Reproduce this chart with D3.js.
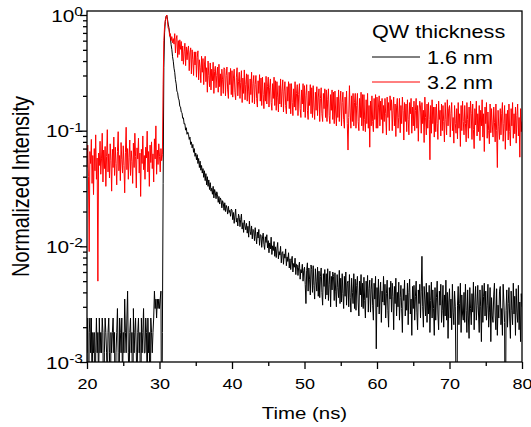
<!DOCTYPE html>
<html>
<head>
<meta charset="utf-8">
<script src="https://cdn.jsdelivr.net/npm/d3@7"></script>
<style>
  body { margin: 0; background: #fff; }
  text { font-family: Arial, "Liberation Sans", sans-serif; fill: #000; }
</style>
</head>
<body>
<svg id="chart" width="531" height="427"></svg>
<script>
// time grid of the measurement (ns)
const tStart = 20, tStep = 0.1;

const xTicks = [20, 30, 40, 50, 60, 70, 80];
const xMinor = [25, 35, 45, 55, 65, 75];
const yTicks = [1e-3, 1e-2, 1e-1, 1];
const yTickExp = ["-3", "-2", "-1", "0"];

const legendTitle = "QW thickness";
const seriesNames = ["1.6 nm", "3.2 nm"];
const seriesColors = ["#000000", "#ff0000"];

// 1.6 nm QW, intensity x 1e4, one row per ns (20.0 .. 80.0)
const black16 = [
  12,24,0,18,24,12,24,6,18,12,
  18,0,12,24,12,18,6,24,12,18,
  12,24,18,0,12,24,18,12,6,18,
  24,12,0,18,12,18,24,12,18,0,
  12,18,29,12,0,24,18,12,24,6,
  18,12,35,18,12,24,41,12,6,18,
  24,12,18,0,29,12,18,24,12,6,
  18,24,12,18,0,24,12,18,29,12,
  12,24,18,6,24,12,18,0,24,18,
  12,18,24,41,29,35,24,35,29,35,
  29,35,41,0,18,350,3500,7000,8800,9700,        // 30
  10000,9210,8350,7760,6940,6330,5540,5050,4360,3990,
  3470,3200,2760,2540,2200,2130,1910,1840,1630,1600,
  1450,1430,1280,1290,1140,1150,1010,1060,930,970,
  930,840,880,760,800,710,760,650,700,600,
  640,560,620,520,575,480,545,455,500,430,
  470,395,450,370,425,340,400,330,375,310,
  355,300,318,282,330,262,310,290,258,296,
  280,240,270,232,262,250,215,248,236,205,
  238,200,226,214,190,222,196,205,182,210,
  205,170,196,158,183,210,162,175,150,190,      // 40
  178,148,170,190,141,160,132,168,150,139,
  158,130,149,120,165,135,126,150,116,140,
  137,112,145,121,105,133,118,140,102,126,
  125,98,118,130,104,94,121,108,126,97,
  112,88,107,95,120,85,101,92,110,82,
  99,80,95,108,78,90,84,100,72,88,
  90,70,86,79,95,68,81,74,88,65,
  78,63,75,82,60,71,66,79,57,70,
  69,56,66,73,52,63,59,70,50,62,
  66,47,32,62,72,41,65,52,38,69,                // 50
  63,40,68,46,35,64,50,41,66,37,
  61,36,55,65,40,31,58,45,63,35,
  58,38,64,34,47,61,30,55,42,60,
  55,34,59,41,30,57,44,36,62,32,
  53,33,58,39,29,55,37,60,31,48,
  50,30,57,36,27,53,40,32,58,29,
  52,28,46,55,33,25,50,38,57,30,
  48,29,54,34,24,50,36,56,27,43,
  51,27,42,53,31,23,48,35,55,13,
  44,30,52,26,38,49,22,41,33,55,                // 60
  31,47,24,39,51,28,20,44,35,50,
  27,48,37,19,45,32,53,25,40,30,
  49,23,36,46,29,18,43,34,51,25,
  38,28,48,21,40,52,26,35,17,45,
  29,46,23,37,50,27,19,42,32,47,
  24,41,82,30,20,45,35,25,48,22,
  40,26,46,18,34,49,24,42,29,17,
  44,23,36,50,26,19,41,31,47,22,
  28,46,20,38,25,51,23,40,16,33,
  43,24,35,19,47,27,21,41,30,6,                 // 70
  0,31,45,21,32,48,18,38,26,23,
  40,22,47,28,18,42,25,16,44,29,
  21,39,27,49,19,33,45,23,31,46,
  26,18,42,30,15,46,22,37,48,25,
  41,23,31,47,20,27,44,15,36,25,
  22,38,48,25,19,43,17,31,24,41,
  45,21,29,17,47,33,22,0,28,42,
  20,32,44,24,16,41,28,21,48,26,
  37,17,43,27,22,46,19,33,15,39,
  30                                            // 80
];

// 3.2 nm QW, intensity x 1e3, one row per ns (20.0 .. 80.0)
const red32 = [
  48,75,40,9,66,52,84,35,61,28,
  70,45,92,38,58,5,64,50,81,42,
  57,95,36,68,47,73,33,60,102,44,
  63,39,77,55,30,69,48,88,41,72,
  52,34,66,98,45,61,37,79,56,43,
  74,50,29,65,107,46,70,38,59,83,
  41,67,54,35,78,48,95,60,32,71,
  57,86,43,64,27,69,52,90,46,61,
  38,72,58,99,44,66,33,75,53,80,
  47,63,36,85,57,110,42,68,51,77,
  60,44,70,55,62,250,600,800,900,960,           // 30
  1000,885,765,760,655,690,600,650,575,625,
  560,690,470,620,665,430,600,455,610,505,
  590,400,540,375,480,570,365,530,410,500,
  540,330,470,520,310,500,410,300,480,370,
  480,290,430,490,275,410,350,260,440,320,
  420,250,370,440,265,350,215,400,300,240,
  385,225,340,270,390,210,325,360,235,300,
  355,215,375,240,310,200,340,275,210,350,
  340,200,300,355,225,190,320,250,345,205,
  330,195,285,340,215,185,290,350,200,265,      // 40
  320,190,260,330,175,285,210,335,185,250,
  310,180,305,220,170,280,205,320,175,255,
  300,170,250,300,190,160,270,210,305,180,
  285,165,290,205,155,260,180,295,170,240,
  290,160,235,280,175,150,255,190,290,165,
  270,150,265,195,145,245,170,280,160,220,
  275,145,220,265,165,140,240,180,265,155,
  255,140,255,175,135,230,160,265,150,210,
  250,135,205,255,155,130,225,170,255,145,
  245,130,200,250,150,125,220,165,250,140,      // 50
  235,130,245,160,125,215,150,240,135,195,
  230,120,190,235,140,120,210,155,230,130,
  225,120,185,230,135,115,205,150,225,125,
  215,115,220,145,110,195,130,225,120,180,
  220,110,175,215,125,105,195,140,220,115,
  68,130,245,145,105,200,120,210,110,175,
  210,105,165,210,120,100,190,130,215,110,
  205,100,205,125,98,185,115,210,105,165,
  72,180,110,200,120,98,190,125,205,105,
  195,105,160,200,110,180,125,190,95,165,       // 60
  120,190,140,92,195,130,175,100,200,150,
  185,100,150,195,110,170,89,160,190,105,
  130,190,96,165,115,195,150,83,175,120,
  170,98,185,125,92,175,140,190,95,160,
  110,180,100,150,190,105,165,81,145,180,
  160,95,175,115,150,79,195,130,92,170,
  105,175,125,56,165,95,185,115,160,88,
  160,98,170,115,84,180,125,150,90,170,
  100,165,120,80,175,125,92,185,110,155,
  165,88,140,175,100,130,78,165,115,95,         // 70
  155,85,175,105,140,73,165,100,180,120,
  92,165,115,80,175,125,86,160,105,180,
  140,84,170,102,70,155,112,180,90,140,
  98,165,82,150,110,185,88,140,66,160,
  115,175,86,145,100,77,170,96,155,112,
  88,160,118,80,170,100,48,150,108,84,
  155,92,140,175,81,115,165,69,140,100,
  150,83,170,98,74,155,110,175,86,140,
  94,160,78,135,170,90,130,59,155,98,
  120                                           // 80
];

const W = 531, H = 427;
const margin = { left: 87, right: 9, top: 11, bottom: 65 };
const textStretch = 1.2;   // the reference text is drawn wide

const svg = d3.select("#chart");

const x = d3.scaleLinear()
    .domain([20, 80])
    .range([margin.left, W - margin.right]);

// 10^0 sits a few px below the top of the frame
const y = d3.scaleLog()
    .domain([1e-3, 1.083])
    .range([H - margin.bottom, margin.top]);

// normalize each trace to its own peak
function normalize(vals) {
    let peak = d3.max(vals);
    return vals.map((c, i) => ({ t: tStart + i * tStep, v: Math.max(c / peak, 1e-4) }));
}
const series = [normalize(black16), normalize(red32)];

svg.append("clipPath").attr("id", "plotClip")
  .append("rect")
    .attr("x", margin.left).attr("y", margin.top)
    .attr("width", x.range()[1] - margin.left)
    .attr("height", y.range()[0] - margin.top);

let line = d3.line().x(d => x(d.t)).y(d => y(d.v));

svg.append("g")
    .attr("clip-path", "url(#plotClip)")
  .selectAll("path")
  .data(series)
  .join("path")
    .attr("d", line)
    .attr("fill", "none")
    .attr("stroke", (d, i) => seriesColors[i])
    .attr("stroke-width", 1);

// frame
svg.append("rect")
    .attr("x", margin.left).attr("y", margin.top)
    .attr("width", x.range()[1] - margin.left)
    .attr("height", y.range()[0] - margin.top)
    .attr("fill", "none")
    .attr("stroke", "#000")
    .attr("stroke-width", 1.3);

// bottom axis
let xAxis = svg.append("g")
    .attr("transform", `translate(0,${y.range()[0]})`)
    .call(d3.axisBottom(x).tickValues(xTicks).tickSize(7).tickFormat(d3.format("d")));
xAxis.select(".domain").remove();
xAxis.selectAll("line").attr("stroke-width", 1.3);
xAxis.selectAll("text")
    .attr("y", 27).attr("dy", 0)
    .attr("transform", `scale(${textStretch},1)`)
    .style("font-size", "15px")
    .style("font-family", "Arial, 'Liberation Sans', sans-serif");

let xMinorAxis = svg.append("g")
    .attr("transform", `translate(0,${y.range()[0]})`)
    .call(d3.axisBottom(x).tickValues(xMinor).tickSize(4).tickFormat(""));
xMinorAxis.select(".domain").remove();
xMinorAxis.selectAll("line").attr("stroke-width", 1.3);

// left axis, decades + minor ticks
let yMinor = [];
[1e-3, 1e-2, 1e-1].forEach(d => { for (let k = 2; k <= 9; k++) yMinor.push(d * k); });

let yAxis = svg.append("g")
    .attr("transform", `translate(${margin.left},0)`)
    .call(d3.axisLeft(y).tickValues(yTicks).tickSize(7).tickFormat(""));
yAxis.select(".domain").remove();
yAxis.selectAll("line").attr("stroke-width", 1.3);

let yMinorAxis = svg.append("g")
    .attr("transform", `translate(${margin.left},0)`)
    .call(d3.axisLeft(y).tickValues(yMinor).tickSize(4).tickFormat(""));
yMinorAxis.select(".domain").remove();
yMinorAxis.selectAll("line").attr("stroke-width", 1.3);

// y tick labels 10^n
let yLab = svg.append("g").selectAll("g")
  .data(yTicks)
  .join("g")
    .attr("transform", d => `translate(83,${y(d) + 6.5}) scale(1.3,1)`)
  .append("text")
    .attr("text-anchor", "end")
    .style("font-size", "16px");
yLab.append("tspan").text("10");
yLab.append("tspan")
    .attr("dy", -5.5)
    .style("font-size", "12px")
    .text((d, i) => yTickExp[i]);

// axis titles
svg.append("g")
    .attr("transform", `translate(${(x.range()[0] + x.range()[1]) / 2},419) scale(${textStretch},1)`)
  .append("text")
    .attr("text-anchor", "middle")
    .style("font-size", "17px")
    .text("Time (ns)");

svg.append("g")
    .attr("transform", `translate(29,${(y.range()[0] + y.range()[1]) / 2}) scale(${textStretch},1) rotate(-90)`)
  .append("text")
    .attr("text-anchor", "middle")
    .style("font-size", "20px")
    .text("Normalized Intensity");

// legend
let legend = svg.append("g");
legend.append("g")
    .attr("transform", `translate(372,37.5) scale(${textStretch},1)`)
  .append("text")
    .style("font-size", "18px")
    .text(legendTitle);

let items = legend.selectAll("g.item")
  .data(seriesNames)
  .join("g")
    .attr("class", "item")
    .attr("transform", (d, i) => `translate(372,${57 + i * 25})`);
items.append("line")
    .attr("x1", 0).attr("x2", 48)
    .attr("stroke", (d, i) => seriesColors[i])
    .attr("stroke-width", 1);
items.append("g")
    .attr("transform", `translate(55,7) scale(${textStretch},1)`)
  .append("text")
    .style("font-size", "18px")
    .text(d => d);
</script>
</body>
</html>
